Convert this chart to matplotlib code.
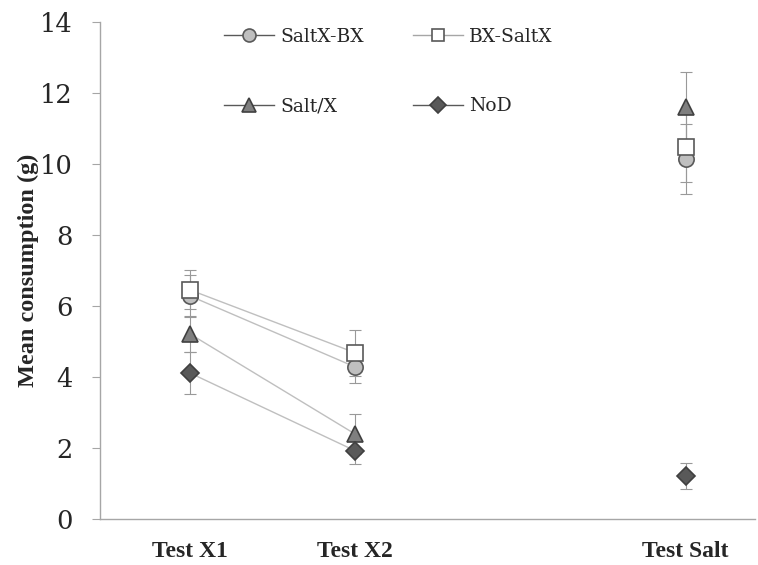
import matplotlib
matplotlib.use("Agg")
import matplotlib.pyplot as plt
from matplotlib.lines import Line2D

tests = ["Test X1", "Test X2", "Test Salt"]
xpos = [1, 2, 4]

series = ["SaltX-BX", "BX-SaltX", "Salt/X", "NoD"]
saltx_bx = [6.28, 4.28, 10.14]
bx_saltx = [6.45, 4.68, 10.48]
salt_x = [5.21, 2.39, 11.6]
nod = [4.11, 1.92, 1.21]

saltx_bx_err = [0.6, 0.45, 0.98]
bx_saltx_err = [0.55, 0.65, 1.0]
salt_x_err = [0.5, 0.57, 1.0]
nod_err = [0.6, 0.37, 0.37]

yticks = [0, 2, 4, 6, 8, 10, 12, 14]

styles = [
    dict(marker="o", mfc="#bfbfbf", mec="#595959", ms=11),
    dict(marker="s", mfc="white", mec="#595959", ms=11),
    dict(marker="^", mfc="#7f7f7f", mec="#404040", ms=12),
    dict(marker="D", mfc="#595959", mec="#404040", ms=9.5),
]
values = [saltx_bx, bx_saltx, salt_x, nod]
errs = [saltx_bx_err, bx_saltx_err, salt_x_err, nod_err]

fig = plt.figure(figsize=(7.58, 5.65), dpi=100)
ax = fig.add_axes([0.132, 0.0814, 0.864, 0.880])

line_color = "#bfbfbf"
for v, e, st in zip(values, errs, styles):
    ax.errorbar(xpos, v, yerr=e, fmt="none", ecolor="#999999", elinewidth=0.8,
                capsize=4.5, capthick=0.8, zorder=2)
for v, e, st in zip(values, errs, styles):
    ax.plot(xpos[:2], v[:2], color=line_color, lw=1.0, zorder=3)
for v, st in zip(values, styles):
    ax.plot(xpos, v, linestyle="none", mew=1.2, zorder=4, **st)

ax.set_xlim(0.455, 4.42)
ax.set_ylim(0, 14)
ax.set_yticks(yticks)
ax.set_yticklabels([str(t) for t in yticks], family="DejaVu Serif", fontsize=18.5, color="#262626")
ax.set_xticks(xpos)
ax.set_xticklabels(tests, family="Liberation Serif", fontweight="bold", fontsize=17, color="#262626")
ax.tick_params(axis="x", length=0, pad=16)
ax.tick_params(axis="y", length=6, color="#a6a6a6", pad=14)
for s in ["top", "right"]:
    ax.spines[s].set_visible(False)
for s in ["left", "bottom"]:
    ax.spines[s].set_color("#a6a6a6")
    ax.spines[s].set_linewidth(1.0)
ax.set_ylabel("Mean consumption (g)", family="Liberation Serif", fontweight="bold", fontsize=17.5, color="#262626", labelpad=0)

handles = [Line2D([0], [0], color="#595959" if i != 1 else "#a6a6a6", lw=1.0, mew=1.2,
                  **{k: (val * 0.85 if k == "ms" else val) for k, val in st.items()})
           for i, st in enumerate(styles)]
order = [0, 2, 1, 3]
leg = ax.legend([handles[i] for i in order], [series[i] for i in order], ncol=2,
                loc="upper left", bbox_to_anchor=(0.163, 1.022), frameon=False,
                prop={"family": "DejaVu Serif", "size": 13.5}, labelspacing=2.75,
                columnspacing=2.6, handlelength=2.7, handletextpad=0.32)
for t in leg.get_texts():
    t.set_color("#262626")

fig.savefig("out.png", dpi=100)
